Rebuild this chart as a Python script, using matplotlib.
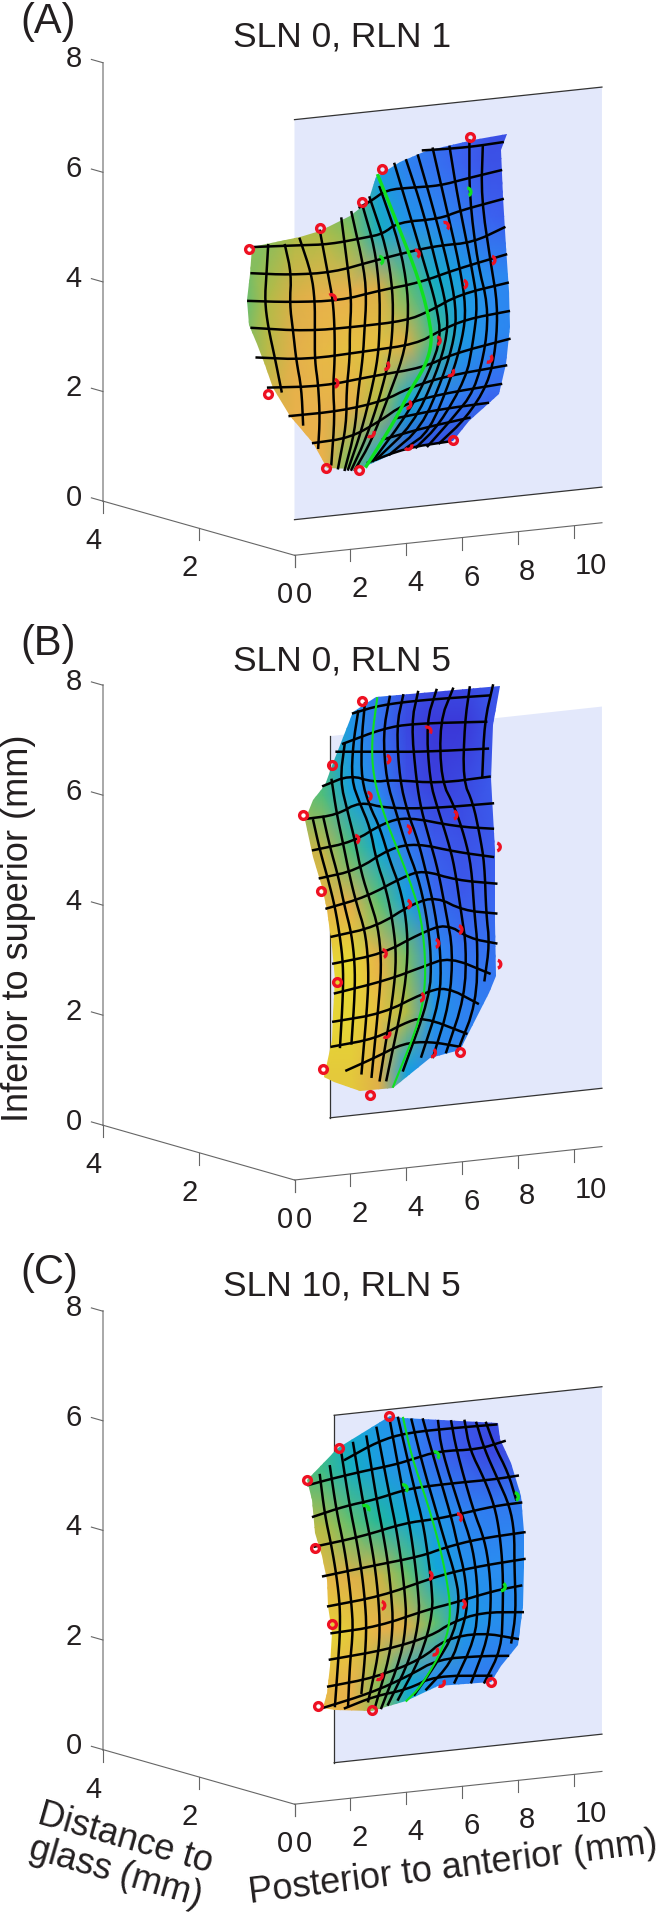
import numpy as np
import matplotlib
matplotlib.use('Agg')
import matplotlib.pyplot as plt
from matplotlib.colors import LinearSegmentedColormap, Normalize
from matplotlib.patches import Arc, Polygon

plt.rcParams['font.family'] = ['Liberation Sans', 'DejaVu Sans']
INK = '#231f20'

x_ticks = [0, 2, 4, 6, 8, 10]
y_ticks = [4, 2, 0]
z_ticks = [0, 2, 4, 6, 8]
titles = ['SLN 0, RLN 1', 'SLN 0, RLN 5', 'SLN 10, RLN 5']
letters = ['(A)', '(B)', '(C)']

# glass plane extent (mm): x start, z bottom, z top
plane_a = (0.0, 0.65, 7.95)
plane_b = (1.27, 1.06, 8.0)
plane_c = (1.42, 0.68, 7.02)

outline_a = [(-1.55,5.95),(.17,6.03),(.89,6.10),(1.96,6.30),(2.61,6.50),(2.91,6.92),(3.74,7.13),(4.69,7.28),(6.36,7.37),(7.59,7.42),(7.37,7.14),(7.43,6.33),(7.55,5.47),(7.67,4.71),(7.69,4.08),(7.55,3.45),(7.31,2.95),(6.24,2.55),(5.65,2.23),(3.98,2.20),(2.55,1.96),(2.08,1.93),(1.15,2.01),(.65,2.46),(-.19,2.97),(-.78,3.49),(-1.08,3.90),(-1.37,4.27),(-1.64,4.62),(-1.71,5.04),(-1.61,5.49)]
green_a = [(2.97,6.94),(3.62,6.13),(4.46,5.05),(4.87,4.23),(4.87,3.88),(4.63,3.55),(4.10,3.17),(3.62,2.73),(2.55,1.96)]
rows_a = [
    [(4.58,7.29),(5.41,7.27),(6.36,7.26),(7.43,7.28)],
    [(2.31,6.43),(2.73,6.52),(3.27,6.68),(4.22,6.67),(5.17,6.65),(6.12,6.72),(7.37,6.80)],
    [(-1.55,5.95),(.17,5.89),(1.24,5.85),(2.55,5.90),(3.15,5.93),(3.68,6.10),(5.17,6.08),(5.88,6.18),(7.43,6.30)],
    [(-1.55,5.50),(-.19,5.40),(1.36,5.36),(2.79,5.48),(4.22,5.58),(5.17,5.62),(6.36,5.61),(7.49,5.81)],
    [(-1.67,5.03),(-.19,4.93),(1.60,4.86),(3.03,4.96),(4.46,5.02),(5.77,5.18),(7.55,5.34)],
    [(-1.55,4.56),(.41,4.40),(2.20,4.38),(3.98,4.39),(4.81,4.51),(5.88,4.74),(7.61,4.85)],
    [(-1.37,4.04),(.41,3.91),(2.55,3.94),(4.34,3.97),(5.17,4.15),(6.12,4.30),(7.65,4.36)],
    [(-.96,3.50),(1.0,3.42),(2.79,3.50),(4.58,3.55),(5.65,3.73),(7.67,3.88)],
    [(-.19,2.97),(1.60,2.96),(3.15,3.05),(4.10,3.23),(5.41,3.36),(7.55,3.43)],
    [(.65,2.46),(1.96,2.48),(3.03,2.71),(3.86,2.95),(5.17,3.06),(7.37,3.12)],
    [(3.62,2.73),(5.17,2.80),(6.90,2.82)],
    [(3.15,2.39),(4.58,2.51),(6.24,2.60)],
    [(2.61,2.02),(3.98,2.20),(5.53,2.23)],
]
cols_a = [
    [(-.96,5.95),(-1.02,5.46),(-1.08,5.00),(-.96,4.54),(-.72,4.00),(-.48,3.41)],
    [(-.36,5.92),(-.13,5.41),(-.19,4.90),(-.07,4.43),(.05,3.90),(.23,3.43),(.29,2.80)],
    [(.17,6.0),(.59,5.37),(.71,4.91),(.71,4.39),(.71,3.87),(.83,3.46),(.89,2.88),(.83,2.37)],
    [(.89,6.10),(1.18,5.34),(1.36,4.87),(1.42,4.35),(1.42,3.83),(1.36,3.37),(1.42,2.86),(1.30,2.06)],
    [(1.66,6.27),(1.90,5.36),(2.02,4.84),(1.96,4.32),(1.96,3.86),(1.84,3.29),(1.84,2.72),(1.54,1.98)],
    [(2.02,6.36),(2.49,5.32),(2.55,4.81),(2.49,4.35),(2.43,3.84),(2.25,3.22),(2.14,2.58),(1.78,1.94)],
    [(2.43,6.43),(2.85,5.71),(3.03,4.96),(3.03,4.33),(2.97,3.81),(2.73,3.24),(2.37,2.57),(1.90,1.94)],
    [(2.67,6.58),(3.27,5.69),(3.50,4.93),(3.50,4.30),(3.39,3.79),(3.03,3.12),(2.55,2.45),(2.02,1.93)],
    [(3.03,6.74),(3.74,5.72),(4.04,4.90),(4.04,4.27),(3.86,3.76),(3.33,3.10),(2.73,2.38),(2.14,1.92)],
    [(3.56,7.11),(4.10,6.22),(4.63,5.33),(5.05,4.62),(5.23,4.03),(4.81,3.48),(4.10,2.83),(2.79,2.04)],
    [(3.98,7.15),(4.58,6.25),(5.05,5.31),(5.41,4.60),(5.47,4.08),(5.05,3.41),(4.22,2.59),(2.91,2.06)],
    [(4.40,7.21),(4.93,6.30),(5.47,5.29),(5.77,4.52),(5.71,4.0),(5.29,3.34),(4.52,2.52),(3.39,2.12)],
    [(4.93,7.30),(5.41,6.27),(5.88,5.26),(6.12,4.50),(6.0,3.99),(5.59,3.32),(4.81,2.44),(3.98,2.20)],
    [(5.53,7.30),(5.82,6.42),(6.30,5.24),(6.54,4.54),(6.36,3.86),(6.12,3.29),(5.17,2.54),(4.34,2.19)],
    [(6.24,7.37),(6.24,6.40),(6.54,5.23),(6.90,4.52),(6.84,3.83),(6.42,3.05),(5.65,2.63),(4.75,2.19)],
    [(6.72,7.26),(6.66,6.37),(7.01,5.20),(7.25,4.50),(7.19,3.76),(6.90,3.14),(6.12,2.60),(5.17,2.22)],
]
rings_a = [(-1.64,5.92),(-.96,3.39),(1.12,2.01),(2.29,1.91),(5.65,2.24),(6.26,7.43),(3.12,7.05),(2.40,6.51),(.89,6.15)]
red_arcs_a = [(1.30,4.91,45),(1.39,3.45,0),(3.21,3.66,-20),(4.30,5.52,20),(5.35,5.94,30),(6.0,4.91,0),(7.01,5.27,0),(5.05,3.99,0),(6.90,3.59,-30),(5.53,3.43,-40),(4.0,2.95,-20),(2.69,2.53,-50),(4.04,2.24,-60)]
green_arcs_a = [(6.15,6.49,10),(3.0,5.48,10)]
depth_x_a = [-2, -1, 0, 1, 2, 3, 4, 5, 6, 7, 8]
depth_z_a = [8, 7, 6, 5, 4, 3, 2, 1]
depth_a = [
    [2.0,2.0,2.0,2.0,1.8,1.5,1.0,.6,.5,.3,.2],
    [2.4,2.4,2.4,2.4,2.2,1.3,.9,.7,.5,.3,.3],
    [2.6,2.6,2.8,2.8,2.6,1.7,1.2,1.0,.8,.5,.4],
    [2.3,2.8,3.2,3.5,3.5,3.2,2.4,1.7,1.3,1.0,.9],
    [2.6,2.9,3.4,3.6,3.7,3.7,3.2,2.2,1.3,1.0,.9],
    [3.0,3.2,3.5,3.5,3.4,2.8,1.6,1.0,.8,.6,.6],
    [3.5,3.5,3.5,3.5,2.5,1.3,.3,.1,.1,.1,.1],
    [3.5,3.5,3.5,3.5,2.5,1.3,.3,.1,.1,.1,.1],
]

outline_b = [(2.08,8.44),(2.91,8.66),(7.34,8.60),(7.09,7.93),(7.02,6.97),(7.14,5.71),(7.16,4.44),(7.20,3.48),(6.94,3.19),(5.89,2.23),(4.82,2.14),(3.51,1.69),(2.31,1.70),(1.41,1.90),(1.05,2.02),(1.31,2.66),(1.37,3.13),(1.43,3.71),(1.31,4.31),(1.13,4.97),(.95,5.39),(.65,5.94),(.36,6.61),(.65,6.95),(1.07,7.19),(1.37,7.56)]
green_b = [(2.94,8.63),(2.74,7.90),(2.80,7.24),(3.21,6.51),(3.63,5.96),(4.10,5.34),(4.52,4.67),(4.70,3.71),(4.52,2.89),(3.51,1.71)]
rows_b = [
    [(2.08,8.41),(3.03,8.50),(4.58,8.51),(6.96,8.46)],
    [(1.72,7.89),(3.15,8.08),(4.22,8.11),(6.84,8.0)],
    [(1.49,7.76),(3.15,7.67),(4.58,7.59),(6.90,7.52)],
    [(1.01,7.18),(1.96,7.32),(2.80,7.15),(3.51,7.15),(5.18,7.0),(6.96,7.02)],
    [(.42,6.63),(1.49,6.64),(2.32,6.83),(3.27,6.66),(4.94,6.57),(7.08,6.54)],
    [(.65,6.06),(2.08,6.13),(3.15,6.40),(3.99,6.47),(5.77,6.20),(7.08,6.09)],
    [(.89,5.55),(2.20,5.62),(3.39,5.94),(4.34,5.98),(5.77,5.75),(7.08,5.59)],
    [(1.13,5.0),(2.56,5.13),(3.87,5.41),(4.58,5.49),(5.77,5.25),(7.20,5.11)],
    [(1.31,4.49),(2.91,4.58),(4.22,4.92),(5.06,4.99),(6.01,4.70),(7.20,4.58)],
    [(1.37,4.01),(3.15,4.09),(4.46,4.37),(5.41,4.50),(6.25,4.19),(7.20,4.05)],
    [(1.43,3.48),(3.27,3.61),(4.58,3.78),(5.53,3.90),(6.96,3.53)],
    [(1.37,2.98),(3.15,3.03),(4.58,3.31),(5.41,3.38),(6.54,3.02)],
    [(1.31,2.54),(2.91,2.60),(3.87,2.81),(4.58,2.89),(6.13,2.51)],
    [(1.84,2.09),(2.91,2.27),(3.87,2.46),(4.82,2.44),(5.89,2.29)],
]
cols_b = [
    [(.65,6.59),(.89,6.05),(1.19,5.50),(1.43,5.01),(1.61,4.47),(1.72,3.99),(1.72,3.46),(1.61,2.52)],
    [(1.01,6.63),(1.25,6.09),(1.55,5.54),(1.78,4.99),(2.02,4.51),(2.14,3.97),(2.14,3.44),(2.02,2.56)],
    [(1.31,7.27),(1.49,6.67),(1.72,6.12),(1.96,5.52),(2.20,5.03),(2.50,4.54),(2.62,4.0),(2.62,3.41),(2.38,2.01)],
    [(1.78,7.89),(1.61,7.25),(1.90,6.64),(2.14,6.16),(2.38,5.55),(2.68,5.06),(2.97,4.58),(3.09,3.98),(3.03,3.39),(2.74,1.93)],
    [(2.26,8.43),(2.08,7.87),(2.02,7.23),(2.32,6.80),(2.68,6.36),(2.91,5.76),(3.27,5.21),(3.51,4.60),(3.63,4.01),(3.51,3.30),(3.03,1.85)],
    [(2.50,8.56),(2.38,7.92),(2.38,7.21),(2.68,6.72),(3.03,6.34),(3.39,5.73),(3.75,5.24),(3.99,4.64),(4.04,3.98),(3.87,3.23),(3.27,1.84)],
    [(3.39,8.63),(3.15,7.99),(3.27,7.16),(3.63,6.55),(3.99,5.94),(4.40,5.38),(4.70,4.72),(4.88,3.94),(4.82,3.23),(3.87,1.98)],
    [(3.87,8.63),(3.63,8.09),(3.75,7.13),(4.04,6.53),(4.40,6.03),(4.70,5.43),(5.0,4.76),(5.23,3.92),(5.18,3.15),(4.52,2.19)],
    [(4.40,8.66),(4.16,8.12),(4.34,7.10),(4.52,6.56),(4.82,6.01),(5.12,5.46),(5.41,4.68),(5.65,4.01),(5.53,3.08),(4.94,2.16)],
    [(5.06,8.66),(4.70,8.11),(4.82,7.07),(5.12,6.53),(5.47,5.97),(5.71,5.49),(5.95,4.65),(6.13,4.05),(6.07,3.16),(5.41,2.22)],
    [(5.65,8.65),(5.18,8.09),(5.23,7.05),(5.71,6.55),(6.07,6.0),(6.31,5.46),(6.42,4.62),(6.54,4.03),(6.48,3.02),(5.83,2.23)],
    [(6.25,8.64),(6.07,8.01),(6.01,7.01),(6.37,6.58),(6.60,6.03),(6.78,5.49),(6.84,4.60),(6.96,4.06),(6.78,3.42)],
    [(7.08,8.63),(6.78,8.0),(6.70,7.03)],
]
rings_b = [(2.38,8.61),(1.34,7.54),(.30,6.70),(.93,5.32),(1.49,3.67),(1.01,2.17),(2.69,1.61),(5.91,2.20)]
red_arcs_b = [(7.22,3.68,0),(7.20,5.76,0),(4.72,7.95,40),(3.25,7.53,0),(2.58,6.91,10),(2.14,6.17,10),(3.99,6.24,10),(5.65,6.41,0),(3.99,4.92,0),(5.0,4.17,0),(5.83,4.37,0),(3.12,4.09,10),(4.46,3.25,-10),(3.25,2.67,-50),(4.88,2.24,-20)]
green_arcs_b = []
depth_x_b = [0, 1, 2, 3, 4, 5, 6, 7, 8]
depth_z_b = [9, 8, 7, 6, 5, 4, 3, 2, 1]
depth_b = [
    [2.0,2.0,1.2,.8,.4,.3,.3,.4,.4],
    [2.2,2.0,1.2,.7,.2,.0,.0,.3,.4],
    [2.6,2.3,1.4,.9,.3,.1,.2,.4,.4],
    [3.2,3.0,2.3,1.5,.8,.4,.3,.4,.4],
    [3.7,3.6,3.4,2.4,1.4,.6,.4,.5,.5],
    [3.9,3.9,3.95,3.5,2.5,1.0,.7,.7,.7],
    [3.9,3.9,3.9,3.7,2.8,1.2,.9,.8,.8],
    [3.8,3.8,3.8,3.3,1.4,.9,.9,.8,.8],
    [3.8,3.8,3.8,3.3,1.4,.9,.9,.8,.8],
]

outline_c = [(.39,5.89),(1.52,6.41),(3.36,6.89),(3.84,6.83),(7.23,6.55),(7.29,6.24),(7.71,5.79),(8.06,5.16),(8.18,4.49),(8.18,3.88),(8.12,3.15),(7.94,2.43),(7.35,2.09),(6.99,1.81),(5.09,1.85),(3.96,1.64),(2.71,1.52),(1.40,1.62),(.98,1.68),(1.10,1.95),(1.22,2.43),(1.28,3.03),(1.16,3.53),(1.10,4.02),(.92,4.46),(.68,4.90),(.57,5.51)]
green_c = [(3.84,6.83),(4.14,6.11),(4.67,5.29),(5.09,4.53),(5.38,3.85),(5.56,3.17),(5.33,2.57),(4.49,1.88),(3.96,1.64)]
rows_c = [
    [(1.76,6.18),(2.95,6.45),(3.96,6.55),(5.80,6.54),(7.17,6.52)],
    [(.45,5.79),(1.16,5.85),(2.35,5.93),(3.54,5.99),(4.14,6.05),(5.09,6.15),(6.52,6.10),(7.47,6.20)],
    [(.62,5.20),(1.76,5.33),(2.83,5.39),(3.90,5.51),(4.73,5.53),(5.92,5.53),(7.11,5.52),(7.94,5.54)],
    [(.68,4.65),(2.35,4.74),(3.90,4.90),(4.97,4.91),(5.80,4.95),(7.11,5.03),(8.06,5.04)],
    [(.98,4.09),(2.71,4.18),(4.49,4.26),(5.33,4.37),(6.52,4.46),(8.18,4.49)],
    [(1.16,3.53),(3.06,3.61),(4.73,3.82),(5.56,3.90),(6.63,3.96),(8.18,4.0)],
    [(1.28,3.03),(2.95,3.06),(4.73,3.27),(5.68,3.34),(7.11,3.48),(8.06,3.52)],
    [(1.22,2.55),(3.30,2.62),(4.85,2.78),(5.56,2.98),(6.63,3.11),(8.12,3.03)],
    [(1.16,2.06),(2.83,2.13),(4.49,2.37),(5.33,2.69),(6.63,2.74),(7.94,2.55)],
    [(.98,1.68),(2.71,1.86),(4.02,2.09),(5.09,2.34),(6.63,2.31),(7.59,2.26)],
    [(1.76,1.63),(2.83,1.79),(4.02,1.85),(4.97,2.04),(6.99,1.93)],
]
cols_c = [
    [(.86,5.95),(1.04,5.21),(1.28,4.62),(1.46,4.06),(1.58,3.51),(1.58,3.02),(1.52,2.53),(1.40,1.69)],
    [(1.22,6.09),(1.46,5.25),(1.70,4.66),(1.87,4.10),(1.99,3.54),(2.05,3.05),(1.93,2.39),(1.87,1.66)],
    [(1.64,6.28),(1.93,5.32),(2.17,4.69),(2.35,4.13),(2.47,3.58),(2.53,3.09),(2.47,2.48),(2.35,1.88)],
    [(2.05,6.47),(2.41,5.35),(2.65,4.73),(2.83,4.17),(2.95,3.61),(3.01,3.06),(2.95,2.52),(2.59,1.71)],
    [(2.53,6.56),(2.89,5.39),(3.12,4.76),(3.30,4.20),(3.42,3.59),(3.48,3.10),(3.36,2.49),(2.83,1.58)],
    [(2.89,6.70),(3.36,5.42),(3.60,4.80),(3.78,4.18),(3.90,3.62),(3.96,3.13),(3.78,2.47),(3.06,1.56)],
    [(3.36,6.82),(3.84,5.46),(4.08,4.83),(4.25,4.21),(4.37,3.66),(4.43,3.17),(4.14,2.45),(3.30,1.61)],
    [(3.66,6.84),(4.25,5.49),(4.55,4.87),(4.73,4.25),(4.85,3.75),(4.91,3.20),(4.49,2.43),(3.66,1.68)],
    [(4.14,6.78),(4.55,5.91),(4.97,5.15),(5.38,4.40),(5.68,3.89),(5.86,3.39),(5.68,2.79),(4.97,2.22),(4.25,1.74)],
    [(4.55,6.76),(4.85,6.19),(5.56,4.93),(5.80,4.37),(6.04,3.87),(6.16,3.26),(5.92,2.78),(5.56,2.25),(4.67,1.81)],
    [(5.09,6.70),(5.21,6.17),(5.92,4.98),(6.28,4.41),(6.46,3.85),(6.52,3.24),(6.40,2.63),(5.68,1.88)],
    [(5.56,6.67),(5.74,6.15),(6.34,5.01),(6.75,4.44),(6.93,3.88),(6.99,3.27),(6.87,2.61),(6.28,1.85)],
    [(6.04,6.65),(6.22,6.12),(6.75,5.54),(7.11,5.03),(7.29,4.54),(7.41,3.86),(7.41,3.13),(7.35,2.40),(6.75,1.82)],
    [(6.46,6.59),(6.75,6.09),(7.23,5.51),(7.65,5.0),(7.82,4.51),(7.82,3.90),(7.88,3.04),(7.71,2.50)],
    [(6.81,6.57),(7.11,6.13),(7.59,5.62),(7.88,5.11)],
]
rings_c = [(3.35,6.90),(1.55,6.40),(.39,5.89),(.68,4.62),(1.28,3.19),(.78,1.72),(2.71,1.54),(6.99,1.82)]
red_arcs_c = [(5.78,4.89,20),(4.73,3.89,0),(3.04,3.44,0),(5.92,3.30,0),(4.93,2.50,-30),(2.95,2.16,-40),(5.17,1.91,-40)]
green_arcs_c = [(4.97,6.07,30),(3.84,5.53,30),(2.47,5.23,50),(7.82,5.16,10),(7.35,3.54,-20)]
depth_x_c = [0, 1, 2, 3, 4, 5, 6, 7, 8, 9]
depth_z_c = [7, 6, 5, 4, 3, 2, 1]
depth_c = [
    [2.0,2.0,1.5,1.2,1.0,.5,.3,.3,.3,.3],
    [2.4,2.2,1.7,1.3,1.0,.6,.4,.2,.3,.3],
    [3.0,2.8,2.4,2.0,1.5,1.2,.9,.8,.8,.8],
    [3.7,3.6,3.3,3.0,2.4,1.5,1.1,1.0,1.0,1.0],
    [3.9,3.9,3.8,3.5,3.2,2.4,1.3,1.1,1.0,1.0],
    [3.7,3.6,3.5,2.6,1.6,1.0,.9,.8,.8,.8],
    [3.7,3.6,3.5,2.6,1.6,1.0,.9,.8,.8,.8],
]

depth_cmap = LinearSegmentedColormap.from_list('depth', [
    (0.0, '#3a38d8'), (0.125, '#3b62f0'), (0.25, '#2a8cf0'), (0.375, '#12a8d8'),
    (0.5, '#20b8a0'), (0.6, '#60c070'), (0.7, '#b0bc48'), (0.8, '#dcb048'),
    (0.875, '#e8b04c'), (0.95, '#e4c83c'), (1.0, '#e8e030')])

fig = plt.figure(figsize=(6.56, 19.2), dpi=100)
ax = fig.add_axes([0, 0, 1, 1])


def smooth(px, py):
    # corner cutting so the read-off polylines do not look kinked
    p = np.column_stack([px, py])
    for _ in range(2):
        if len(p) < 3:
            break
        q = 0.75 * p[:-1] + 0.25 * p[1:]
        r = 0.25 * p[:-1] + 0.75 * p[1:]
        mid = np.empty((2 * len(q), 2))
        mid[0::2] = q
        mid[1::2] = r
        p = np.vstack([p[:1], mid, p[-1:]])
    return p[:, 0], p[:, 1]


def draw_panel(idx, o, read, title_y, letter_y, plane, plane_lines, outline, green, green_lw,
               rows, cols, rings, red_arcs, green_arcs, depth_x, depth_z, depth):
    ox, oy, x_rise, y_rise, z_scale = o
    read_ox, read_oy, read_z = read

    def proj(x, y, z):
        x = np.asarray(x, dtype=float)
        y = np.asarray(y, dtype=float)
        z = np.asarray(z, dtype=float)
        return ox + 27.95 * x - 47.9 * y, oy - x_rise * x - y_rise * y - z_scale * z

    def surf(x, z):
        # the surface values were read on a slightly different scale per panel
        x = np.asarray(x, dtype=float)
        z = np.asarray(z, dtype=float)
        return read_ox + 27.95 * x, read_oy - 3.08 * x - read_z * z

    # axis lines and ticks
    axis_kw = dict(color='#666666', lw=0.8, zorder=1)
    px, py = proj([0, 0], [4, 4], [0, 8])
    ax.plot(px, py, color='#999999', lw=1.2, zorder=1)
    px, py = proj([0, 0], [4, 0], [0, 0])
    ax.plot(px, py, **axis_kw)
    px, py = proj([0, 11], [0, 0], [0, 0])
    ax.plot(px, py, **axis_kw)
    for t in z_ticks:
        px, py = proj([0, 0], [4, 4.24], [t, t])
        ax.plot(px, py, **axis_kw)
        ax.text(px[1] - 9.5, py[1], str(t), ha='right', va='center', fontsize=21, color=INK)
    for t in y_ticks:
        px, py = proj(0, t, 0)
        ax.plot([px, px], [py, py + 12], **axis_kw)
        ax.text(px - 1, py + 40, str(t), ha='right', va='center', fontsize=21, color=INK)
    for t in x_ticks:
        px, py = proj(t, 0, 0)
        ax.plot([px, px], [py, py + 12], **axis_kw)
        ax.text(px + 1, py + 40, str(t), ha='left', va='center', fontsize=21, color=INK)

    # glass plane
    x0, z0, z1 = plane
    px, py = proj([x0, 11, 11, x0], 0, [z0, z0, z1, z1])
    ax.fill(px, py, color='#e3e8fb', lw=0, zorder=2)
    if 'bottom' in plane_lines:
        ax.plot(px[:2], py[:2], color='#333333', lw=0.9, zorder=3)
    if 'top' in plane_lines:
        ax.plot(px[2:], py[2:], color='#333333', lw=0.9, zorder=3)
    if 'left' in plane_lines:
        ax.plot([px[0], px[3]], [py[0], py[3]], color='#333333', lw=0.9, zorder=3)

    # surface colours, clipped to the outline
    gx, gz = np.meshgrid(depth_x, depth_z)
    mx, my = surf(gx, gz)
    mesh = ax.pcolormesh(mx, my, np.array(depth), cmap=depth_cmap, norm=Normalize(0, 4),
                         shading='gouraud', zorder=4)
    ox_pts, oz_pts = zip(*outline)
    ox_pix, oy_pix = surf(ox_pts, oz_pts)
    clip = Polygon(np.column_stack([ox_pix, oy_pix]), closed=True, fc='none', ec='none',
                   transform=ax.transData)
    ax.add_patch(clip)
    mesh.set_clip_path(clip)

    # mesh lines
    for line in rows + cols:
        lx, lz = zip(*line)
        px, py = smooth(*surf(lx, lz))
        ax.plot(px, py, color='black', lw=1.8, solid_joinstyle='round', zorder=5)

    lx, lz = zip(*green)
    px, py = smooth(*surf(lx, lz))
    ax.plot(px, py, color='#10e020', lw=green_lw, solid_joinstyle='round', zorder=6)

    # markers
    lx, lz = zip(*rings)
    px, py = surf(lx, lz)
    ax.plot(px, py, ls='none', marker='o', ms=5.6, mfc='none', mec='#ee1122', mew=2.4, zorder=7)
    for arcs, colour in ((red_arcs, '#ee1122'), (green_arcs, '#10e020')):
        for ax_x, ax_z, turn in arcs:
            px, py = surf(ax_x, ax_z)
            ax.add_patch(Arc((float(px), float(py)), 8.0, 8.0, theta1=-turn - 75, theta2=-turn + 75,
                             color=colour, lw=2.4, zorder=7))

    ax.text(342, title_y, titles[idx], ha='center', va='center', fontsize=25.5, color=INK)
    ax.text(20, letter_y, letters[idx], ha='left', va='center', fontsize=30, color=INK)


draw_panel(0, (294.5, 555.3, 2.96, 13.55, 54.8), (295, 588, 58.1), 37, 22, plane_a, ('top', 'bottom'),
           outline_a, green_a, 2.4, rows_a, cols_a, rings_a, red_arcs_a, green_arcs_a,
           depth_x_a, depth_z_a, depth_a)
draw_panel(1, (294.5, 1180, 3.04, 13.7, 55.0), (295, 1194, 56.4), 661, 644, plane_b, ('bottom', 'left'),
           outline_b, green_b, 1.5, rows_b, cols_b, rings_b, red_arcs_b, green_arcs_b,
           depth_x_b, depth_z_b, depth_b)
draw_panel(2, (294.5, 1804.2, 2.98, 13.65, 54.8), (295.8, 1802.6, 54.6), 1286, 1273, plane_c, ('top', 'bottom', 'left'),
           outline_c, green_c, 1.5, rows_c, cols_c, rings_c, red_arcs_c, green_arcs_c,
           depth_x_c, depth_z_c, depth_c)

ax.text(19, 928, 'Inferior to superior (mm)', rotation=90, ha='center', va='center', fontsize=26, color=INK)
ax.text(453, 1868, 'Posterior to anterior (mm)', rotation=7.1, ha='center', va='center',
        rotation_mode='anchor', fontsize=26, color=INK)
ax.text(120, 1856, 'Distance to\nglass (mm)', rotation=-16, ha='center', va='center', multialignment='center',
        rotation_mode='anchor', fontsize=26, linespacing=1.0, color=INK)

ax.set_xlim(0, 656)
ax.set_ylim(1920, 0)
ax.axis('off')
fig.savefig('out.png', dpi=100)
